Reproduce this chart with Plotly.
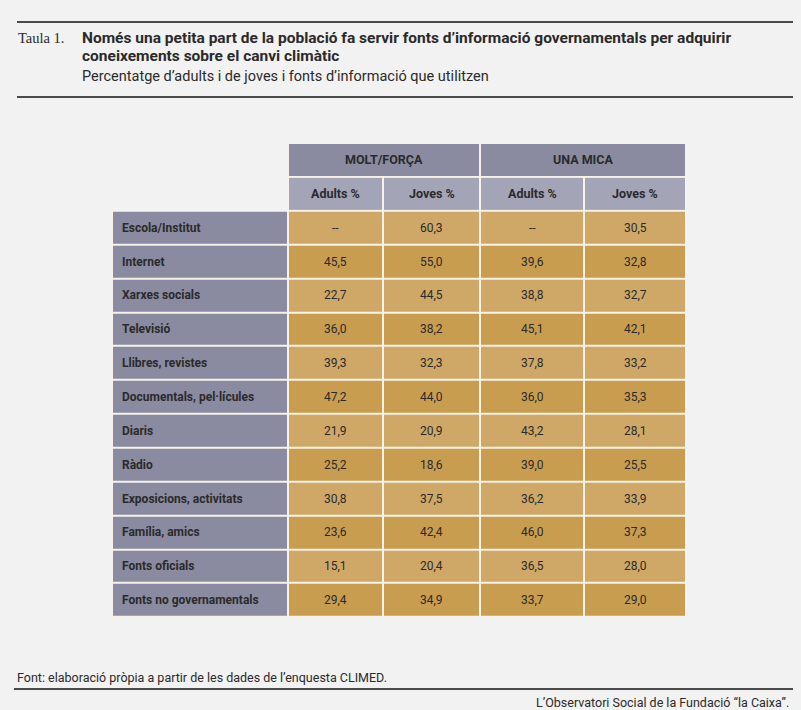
import plotly.graph_objects as go

# --- data ---
groups = ["MOLT/FORÇA", "UNA MICA"]
sub_cols = ["Adults %", "Joves %", "Adults %", "Joves %"]
sources = [
    "Escola/Institut", "Internet", "Xarxes socials", "Televisió",
    "Llibres, revistes", "Documentals, pel·lícules", "Diaris", "Ràdio",
    "Exposicions, activitats", "Família, amics", "Fonts oficials",
    "Fonts no governamentals",
]
molt_adults = [None, 45.5, 22.7, 36.0, 39.3, 47.2, 21.9, 25.2, 30.8, 23.6, 15.1, 29.4]
molt_joves = [60.3, 55.0, 44.5, 38.2, 32.3, 44.0, 20.9, 18.6, 37.5, 42.4, 20.4, 34.9]
mica_adults = [None, 39.6, 38.8, 45.1, 37.8, 36.0, 43.2, 39.0, 36.2, 46.0, 36.5, 33.7]
mica_joves = [30.5, 32.8, 32.7, 42.1, 33.2, 35.3, 28.1, 25.5, 33.9, 37.3, 28.0, 29.0]

W, H = 801, 710
BG = "#f2f2f2"
INK = "#2a2a2a"
C_LABEL = "#8a8aa1"
C_SUB = "#a4a4b7"
C_LIGHT = "#cfa867"
C_DARK = "#c99d50"
GAP = "#f8f2e8"

# column edges of the table (label col + 4 value cols)
edges = [0, 176, 271, 368, 472, 574]
group_edges = [edges[1], edges[3], edges[5]]

columns = [molt_adults, molt_joves, mica_adults, mica_joves]
n = len(sources)


def fmt(v):
    return "--" if v is None else f"{v:.1f}".replace(".", ",")


scale = [[0, C_LABEL], [1 / 3, C_SUB], [2 / 3, C_LIGHT], [1, C_DARK]]
common = dict(colorscale=scale, zmin=0, zmax=3, showscale=False,
              xgap=2, ygap=2, hoverinfo="skip")

fig = go.Figure()

# header row 1 (merged groups)
fig.add_trace(go.Heatmap(z=[[0] * len(groups)], x=group_edges, y=[-0.5, 0.5], **common))
# header row 2
fig.add_trace(go.Heatmap(z=[[1] * len(sub_cols)], x=edges[1:], y=[0.5, 1.5], **common))
# body: label column + values, alternating rows
body_z = []
for i in range(n):
    shade = 2 if i % 2 == 0 else 3
    body_z.append([0] + [shade] * len(columns))
fig.add_trace(go.Heatmap(z=body_z, x=edges, y=[r + 1.5 for r in range(n + 1)], **common))

# light backdrop behind the cells so gaps look cream
fig.add_shape(type="rect", xref="x", yref="y", layer="below", line_width=0,
              fillcolor=GAP, x0=edges[1] - 1, x1=edges[-1] + 1, y0=-0.5, y1=1.5)
fig.add_shape(type="rect", xref="x", yref="y", layer="below", line_width=0,
              fillcolor=GAP, x0=edges[0] - 1, x1=edges[-1] + 1, y0=1.5, y1=n + 1.5)

ann = []
tfont = dict(family="Roboto", size=12, color=INK)
bfont = dict(family="Roboto", size=12, color=INK, weight="bold")
hfont = dict(family="Roboto", size=12.5, color=INK, weight="bold")
for g, (a, b) in zip(groups, zip(group_edges[:-1], group_edges[1:])):
    ann.append(dict(x=(a + b) / 2, y=0, text=g, font=hfont, showarrow=False))
for j, s in enumerate(sub_cols):
    ann.append(dict(x=(edges[j + 1] + edges[j + 2]) / 2, y=1, text=s, font=hfont, showarrow=False))
for i, src in enumerate(sources):
    ann.append(dict(x=edges[0] + 8, y=i + 2, text=src, font=bfont, showarrow=False, xanchor="left"))
    for j, col in enumerate(columns):
        ann.append(dict(x=(edges[j + 1] + edges[j + 2]) / 2, y=i + 2, text=fmt(col[i]),
                        font=tfont, showarrow=False))
for a in ann:
    a.update(xref="x", yref="y")


def px(x):
    return x / W


def py(y):
    return 1 - y / H


# titles and footer
ann += [
    dict(x=px(16), y=py(38), text="Taula 1.", xanchor="left",
         font=dict(family="Liberation Serif", size=14.5, color=INK)),
    dict(x=px(80), y=py(38), text="Només una petita part de la població fa servir fonts d’informació governamentals per adquirir",
         xanchor="left", font=dict(family="Roboto", size=15.5, color=INK, weight="bold")),
    dict(x=px(80), y=py(56), text="coneixements sobre el canvi climàtic",
         xanchor="left", font=dict(family="Roboto", size=15.5, color=INK, weight="bold")),
    dict(x=px(80), y=py(77), text="Percentatge d’adults i de joves i fonts d’informació que utilitzen",
         xanchor="left", font=dict(family="Roboto", size=14.5, color=INK)),
    dict(x=px(15), y=py(677), text="Font: elaboració pròpia a partir de les dades de l’enquesta CLIMED.",
         xanchor="left", font=dict(family="Roboto", size=12.5, color=INK)),
    dict(x=px(791), y=py(702), text="L’Observatori Social de la Fundació “la Caixa”.",
         xanchor="right", font=dict(family="Roboto", size=12.5, color=INK)),
]
for a in ann[-6:]:
    a.update(xref="paper", yref="paper", showarrow=False, yanchor="middle")

for y0, xa, xb in [(22, 17, 793), (97, 17, 793), (689, 14, 793)]:
    fig.add_shape(type="line", xref="paper", yref="paper", x0=px(xa), x1=px(xb),
                  y0=py(y0), y1=py(y0), line=dict(color="#4a4a4a", width=2))

fig.update_layout(
    width=W, height=H,
    margin=dict(l=0, r=0, t=0, b=0),
    paper_bgcolor=BG, plot_bgcolor=BG,
    annotations=ann,
    xaxis=dict(domain=[px(112), px(686)], range=[edges[0], edges[-1]],
               visible=False, fixedrange=True),
    yaxis=dict(domain=[py(617), py(143)], range=[n + 1.5, -0.5],
               visible=False, fixedrange=True),
    showlegend=False,
)

fig.write_html("out.html", config={"displayModeBar": False},
               post_script="document.body.style.margin='0';")
